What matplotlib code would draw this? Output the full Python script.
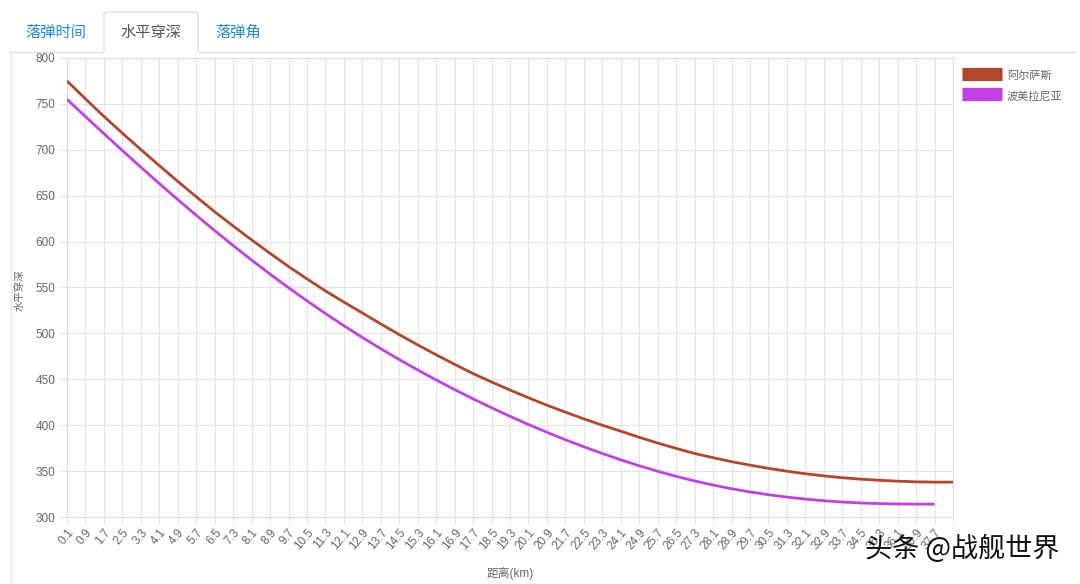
import matplotlib
matplotlib.use("Agg")
import matplotlib.pyplot as plt
from matplotlib.patches import FancyBboxPatch
from matplotlib.lines import Line2D

plt.rcParams['font.family'] = ['Liberation Sans', 'Noto Sans CJK SC', 'DejaVu Sans']

# distance categories (km), step 0.8
distances = ['0.1', '0.9', '1.7', '2.5', '3.3', '4.1', '4.9', '5.7', '6.5', '7.3',
             '8.1', '8.9', '9.7', '10.5', '11.3', '12.1', '12.9', '13.7', '14.5', '15.3',
             '16.1', '16.9', '17.7', '18.5', '19.3', '20.1', '20.9', '21.7', '22.5', '23.3',
             '24.1', '24.9', '25.7', '26.5', '27.3', '28.1', '28.9', '29.7', '30.5', '31.3',
             '32.1', '32.9', '33.7', '34.5', '35.3', '36.1', '36.9', '37.7', '38.5']

# horizontal penetration (mm)
alsace = [775.0, 755.5, 736.4, 718.1, 700.3, 682.8, 665.6, 648.9, 632.5, 617.0,
          601.9, 587.2, 572.9, 559.4, 546.3, 534.1, 522.3, 510.3, 498.7, 487.5,
          476.7, 466.3, 456.2, 447.1, 438.3, 429.9, 421.8, 414.2, 406.9, 400.0,
          393.5, 386.8, 380.6, 374.7, 369.2, 364.6, 360.3, 356.5, 353.0, 349.9,
          347.1, 344.8, 342.8, 341.2, 340.0, 339.0, 338.3, 338.0, 338.0]

pomerania = [755.0, 736.2, 717.6, 699.2, 681.1, 663.3, 645.8, 628.7, 612.0, 595.7,
             579.9, 564.6, 549.8, 535.5, 521.7, 508.4, 495.6, 483.3, 471.5, 460.2,
             449.3, 438.8, 428.7, 419.0, 409.7, 400.8, 392.3, 384.2, 376.5, 369.2,
             362.3, 355.8, 349.8, 344.3, 339.3, 334.8, 330.8, 327.3, 324.3, 321.7,
             319.5, 317.7, 316.3, 315.3, 314.6, 314.2, 314.0, 314.0]

yticks = [300, 350, 400, 450, 500, 550, 600, 650, 700, 750, 800]

W, H = 1080, 584
fig = plt.figure(figsize=(W / 100, H / 100), dpi=100)


def fx(x):
    return x / W


def fy(y):
    return 1 - y / H


ax = fig.add_axes([fx(67), fy(517), fx(953) - fx(67), fy(58) - fy(517)])

grid_c = '#e4e4e4'
text_c = '#666666'
red = '#B4462A'
purple = '#C33FE6'

ax.plot(range(len(alsace)), alsace, color=red, lw=2.0, label='阿尔萨斯',
        solid_capstyle='butt', zorder=3)
ax.plot(range(len(pomerania)), pomerania, color=purple, lw=2.0, label='波美拉尼亚',
        solid_capstyle='butt', zorder=3)

ax.set_xlim(0, len(distances) - 1)
ax.set_ylim(300, 800)
ax.set_yticks(yticks)
ax.set_yticklabels([str(v) for v in yticks])
ax.set_xticks(range(len(distances)))
# last category label is dropped, like the original
ax.set_xticklabels(distances[:-1] + [''], rotation=50, ha='right', va='top',
                   rotation_mode='anchor')
ax.grid(True, color=grid_c, lw=0.8)
ax.set_axisbelow(True)
ax.tick_params(axis='both', colors=grid_c, labelcolor=text_c, labelsize=8.5,
               length=5, width=0.8)
ax.tick_params(axis='x', pad=2)
for s in ax.spines.values():
    s.set_color('#dcdcdc')
    s.set_linewidth(0.8)

fig.text(fx(20), fy(290), '水平穿深', rotation=90, ha='center', va='center',
         fontsize=7.5, color=text_c)
fig.text(fx(510), fy(573), '距离(km)', ha='center', va='center',
         fontsize=8.5, color=text_c)

# legend
leg = ax.legend(loc='upper left', bbox_to_anchor=(fx(952), fy(59)),
                bbox_transform=fig.transFigure, frameon=False, fontsize=8,
                handlelength=3.6, handleheight=1.3, handletextpad=0.45,
                labelspacing=0.75, labelcolor=text_c)
for h in leg.legend_handles:
    h.set_linewidth(9.5)
    h.set_solid_capstyle('butt')

# tab bar
tab_border = '#dddddd'
fig.add_artist(Line2D([fx(10), fx(104)], [fy(52), fy(52)], color=tab_border, lw=1))
fig.add_artist(Line2D([fx(198), fx(1075)], [fy(52), fy(52)], color=tab_border, lw=1))
fig.add_artist(Line2D([fx(11), fx(11)], [fy(52), fy(584)], color='#e8e8e8', lw=1))
fig.add_artist(FancyBboxPatch((fx(104), fy(52)), fx(94), 40 / H,
                              boxstyle='round,pad=0,rounding_size=0.004',
                              transform=fig.transFigure, facecolor='white',
                              edgecolor=tab_border, lw=1))
fig.add_artist(Line2D([fx(105), fx(197)], [fy(52), fy(52)], color='white', lw=1.5))

fig.text(fx(56), fy(33), '落弹时间', ha='center', va='center', fontsize=11, color='#1a8ae0')
fig.text(fx(151), fy(33), '水平穿深', ha='center', va='center', fontsize=11, color='#555555')
fig.text(fx(238), fy(33), '落弹角', ha='center', va='center', fontsize=11, color='#1a8ae0')

# watermark
fig.text(fx(962), fy(549), '头条 @战舰世界', ha='center', va='center', fontsize=19.5,
         color='#111111', weight='medium', family=['Noto Sans CJK SC', 'DejaVu Sans'])

fig.savefig('out.png', dpi=100)
